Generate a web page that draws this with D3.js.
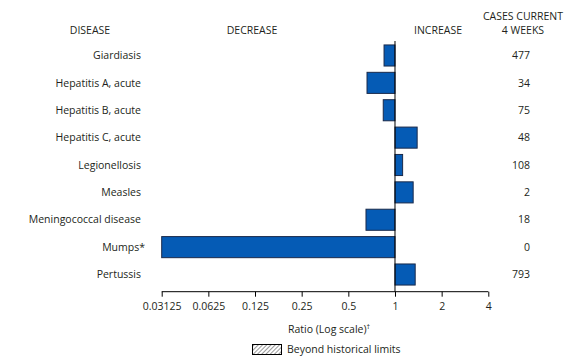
<!DOCTYPE html>
<html><head><meta charset="utf-8">
<script src="https://cdn.jsdelivr.net/npm/d3@7"></script>
<style>
body{margin:0;background:#fff;}
text{font-family:"Open Sans","Noto Sans",sans-serif;fill:#231f20;}
</style></head>
<body><svg id="c" width="578" height="362"></svg>
<script>
const diseases = ["Giardiasis","Hepatitis A, acute","Hepatitis B, acute","Hepatitis C, acute","Legionellosis","Measles","Meningococcal disease","Mumps*","Pertussis"];
const ratios = [0.85, 0.66, 0.84, 1.39, 1.12, 1.31, 0.65, 0.03125, 1.35];
const cases = [477, 34, 75, 48, 108, 2, 18, 0, 793];
const tickValues = [0.03125, 0.0625, 0.125, 0.25, 0.5, 1, 2, 4];
const tickLabels = ["0.03125","0.0625","0.125","0.25","0.5","1","2","4"];

const svg = d3.select("#c");
const x = d3.scaleLog().base(2).domain([0.03125, 4]).range([161.7, 488.3]);
const y = d3.scaleBand().domain(diseases).range([41.8, 288.2]).paddingInner(0.23).paddingOuter(0.115);
const fs = "10.5px";

// defs hatch
const defs = svg.append("defs");
const pat = defs.append("pattern").attr("id","hatch").attr("patternUnits","userSpaceOnUse")
  .attr("width",3).attr("height",3).attr("patternTransform","rotate(45)");
pat.append("rect").attr("width",3).attr("height",3).attr("fill","#fff");
pat.append("line").attr("x1",0).attr("y1",0).attr("x2",0).attr("y2",3).attr("stroke","#777").attr("stroke-width",1.5);

// headers
const hdr = [["DISEASE",90,34],["DECREASE",252,34],["INCREASE",438,34],["CASES CURRENT",523,20],["4 WEEKS",523,34]];
svg.selectAll(".hdr").data(hdr).join("text").attr("class","hdr")
  .attr("x",d=>d[1]).attr("y",d=>d[2]).attr("text-anchor","middle").style("font-size",fs).text(d=>d[0]);

// bars
svg.selectAll(".bar").data(diseases).join("rect").attr("class","bar")
  .attr("x",(d,i)=>Math.min(x(ratios[i]),x(1)))
  .attr("y",d=>y(d))
  .attr("width",(d,i)=>Math.abs(x(ratios[i])-x(1)))
  .attr("height",y.bandwidth())
  .attr("fill","#055bb5").attr("stroke","#1a2a4a").attr("stroke-width",1);

// zero line
svg.append("line").attr("x1",x(1)).attr("x2",x(1)).attr("y1",41).attr("y2",291.7)
  .attr("stroke","#000").attr("stroke-width",1);

// disease labels
svg.selectAll(".lab").data(diseases).join("text").attr("class","lab")
  .attr("x",d=>d==="Mumps*"?145:141).attr("y",d=>y(d)+y.bandwidth()/2).attr("dy","0.35em")
  .attr("text-anchor","end").style("font-size",fs).text(d=>d);

// cases
svg.selectAll(".cs").data(diseases).join("text").attr("class","cs")
  .attr("x",530).attr("y",d=>y(d)+y.bandwidth()/2).attr("dy","0.35em")
  .attr("text-anchor","end").style("font-size",fs).text((d,i)=>cases[i]);

// axis
const axis = d3.axisBottom(x).tickValues(tickValues).tickSize(5).tickPadding(6)
  .tickFormat((d,i)=>tickLabels[i]);
const g = svg.append("g").attr("transform","translate(0,291.7)").call(axis);
g.select(".domain").attr("stroke","#000").attr("d",`M${x.range()[0]},0H${x.range()[1]}`);
g.selectAll(".tick line").attr("stroke","#000").attr("y1",0);
g.selectAll(".tick text").style("font-size",fs).attr("fill","#231f20")
  .style("font-family",'"Open Sans","Noto Sans",sans-serif');

// axis title
const t = svg.append("text").attr("x",288).attr("y",333).style("font-size",fs);
t.append("tspan").text("Ratio (Log scale)");
t.append("tspan").attr("dy",-4).style("font-size","7px").text("†");

// legend
svg.append("rect").attr("x",252.5).attr("y",344.5).attr("width",29).attr("height",10)
  .attr("fill","url(#hatch)").attr("stroke","#000").attr("stroke-width",1);
svg.append("text").attr("x",287).attr("y",349.5).attr("dy","0.35em").style("font-size",fs).text("Beyond historical limits");
</script></body></html>
